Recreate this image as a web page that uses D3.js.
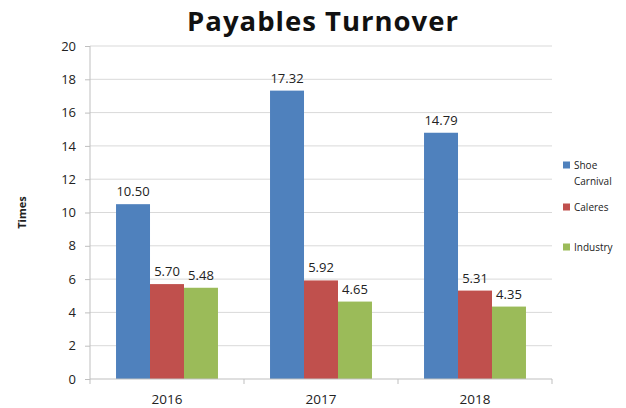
<!DOCTYPE html>
<html>
<head>
<meta charset="utf-8">
<script src="https://cdn.jsdelivr.net/npm/d3@7"></script>
<style>
  body { margin: 0; background: #fff; }
  svg { font-family: "Open Sans", sans-serif; }
</style>
</head>
<body>
<svg id="chart" width="626" height="408"></svg>
<script>
const WIDTH = 626;
const HEIGHT = 408;
const MARGIN = { top: 46, right: 74, bottom: 28, left: 90 };

const years = ["2016", "2017", "2018"];
const seriesNames = ["Shoe Carnival", "Caleres", "Industry"];
const shoeCarnival = [10.50, 17.32, 14.79];
const caleres = [5.70, 5.92, 5.31];
const industry = [5.48, 4.65, 4.35];
const yTicks = [0, 2, 4, 6, 8, 10, 12, 14, 16, 18, 20];
const colors = ["#4f81bd", "#c0504d", "#9bbb59"];

const values = [shoeCarnival, caleres, industry];
const rows = years.map((year, i) => ({
  year,
  vals: seriesNames.map((name, s) => ({ name, s, v: values[s][i] }))
}));

const svg = d3.select("#chart");

const x = d3.scaleBand()
  .domain(years)
  .range([MARGIN.left, WIDTH - MARGIN.right])
  .paddingInner(0.338)
  .paddingOuter(0.169);

const xSub = d3.scaleBand()
  .domain(seriesNames)
  .range([0, x.bandwidth()]);

const y = d3.scaleLinear()
  .domain([0, 20])
  .range([HEIGHT - MARGIN.bottom - 1, MARGIN.top]);

// gridlines
svg.append("g")
  .selectAll("line")
  .data(yTicks.slice(1))
  .join("line")
  .attr("x1", MARGIN.left)
  .attr("x2", WIDTH - MARGIN.right)
  .attr("y1", d => y(d))
  .attr("y2", d => y(d))
  .attr("stroke", "#d9d9d9")
  .attr("stroke-width", 1);

// y axis
svg.append("g")
  .attr("transform", `translate(${MARGIN.left},0)`)
  .call(d3.axisLeft(y).tickValues(yTicks).tickSize(5).tickPadding(9).tickFormat(d3.format("d")))
  .call(g => g.selectAll("line, path").attr("stroke", "#bfbfbf"))
  .call(g => g.select(".domain").attr("d", `M0,${y(20)}V${y(0)}`))
  .call(g => g.selectAll("text").attr("font-size", 13).attr("fill", "#222").attr("font-family", "Open Sans, sans-serif"));

// bars
const groups = svg.append("g")
  .selectAll("g")
  .data(rows)
  .join("g")
  .attr("transform", d => `translate(${x(d.year)},0)`);

groups.selectAll("rect")
  .data(d => d.vals)
  .join("rect")
  .attr("x", d => xSub(d.name))
  .attr("width", xSub.bandwidth())
  .attr("y", d => y(d.v))
  .attr("height", d => y(0) - y(d.v))
  .attr("fill", d => colors[d.s]);

groups.selectAll("text")
  .data(d => d.vals)
  .join("text")
  .attr("x", d => xSub(d.name) + xSub.bandwidth() / 2)
  .attr("y", d => y(d.v) - 8)
  .attr("text-anchor", "middle")
  .attr("font-size", 13)
  .attr("fill", "#222")
  .text(d => d.v.toFixed(2));

// x axis
const xEdges = d3.scaleLinear().domain([0, years.length]).range([MARGIN.left, WIDTH - MARGIN.right]);
svg.append("g")
  .attr("transform", `translate(0,${y(0)})`)
  .call(g => g.append("line")
    .attr("x1", MARGIN.left).attr("x2", WIDTH - MARGIN.right)
    .attr("stroke", "#bfbfbf"))
  .call(g => g.selectAll(".edge")
    .data(d3.range(years.length + 1))
    .join("line")
    .attr("class", "edge")
    .attr("x1", d => xEdges(d)).attr("x2", d => xEdges(d))
    .attr("y1", 0).attr("y2", 5)
    .attr("stroke", "#bfbfbf"))
  .call(g => g.selectAll(".lbl")
    .data(years)
    .join("text")
    .attr("class", "lbl")
    .attr("x", d => x(d) + x.bandwidth() / 2)
    .attr("y", 25)
    .attr("text-anchor", "middle")
    .attr("font-size", 13.5)
    .attr("fill", "#222")
    .text(d => d));

// y axis title
svg.append("text")
  .attr("transform", `translate(26,${(y(0) + y(20)) / 2}) rotate(-90)`)
  .attr("text-anchor", "middle")
  .attr("font-size", 11)
  .attr("font-weight", "bold")
  .attr("fill", "#222")
  .text("Times");

// title
svg.append("text")
  .attr("x", 323)
  .attr("y", 31)
  .attr("text-anchor", "middle")
  .attr("font-size", 27.5)
  .attr("font-weight", "bold")
  .attr("letter-spacing", 1)
  .attr("fill", "#111")
  .text("Payables Turnover");

// legend
const legendY = [165, 207, 247];
const legend = svg.append("g")
  .selectAll("g")
  .data(seriesNames)
  .join("g")
  .attr("transform", (d, i) => `translate(563,${legendY[i]})`);

legend.append("rect")
  .attr("x", 0).attr("y", -3.5)
  .attr("width", 7).attr("height", 7)
  .attr("fill", (d, i) => colors[i]);

legend.append("text")
  .attr("x", 11)
  .attr("y", 4)
  .attr("font-size", 10)
  .attr("fill", "#222")
  .each(function (d) {
    const words = d.split(" ");
    d3.select(this).selectAll("tspan")
      .data(words)
      .join("tspan")
      .attr("x", 11)
      .attr("dy", (w, j) => j === 0 ? 0 : 16)
      .text(w => w);
  });
</script>
</body>
</html>
